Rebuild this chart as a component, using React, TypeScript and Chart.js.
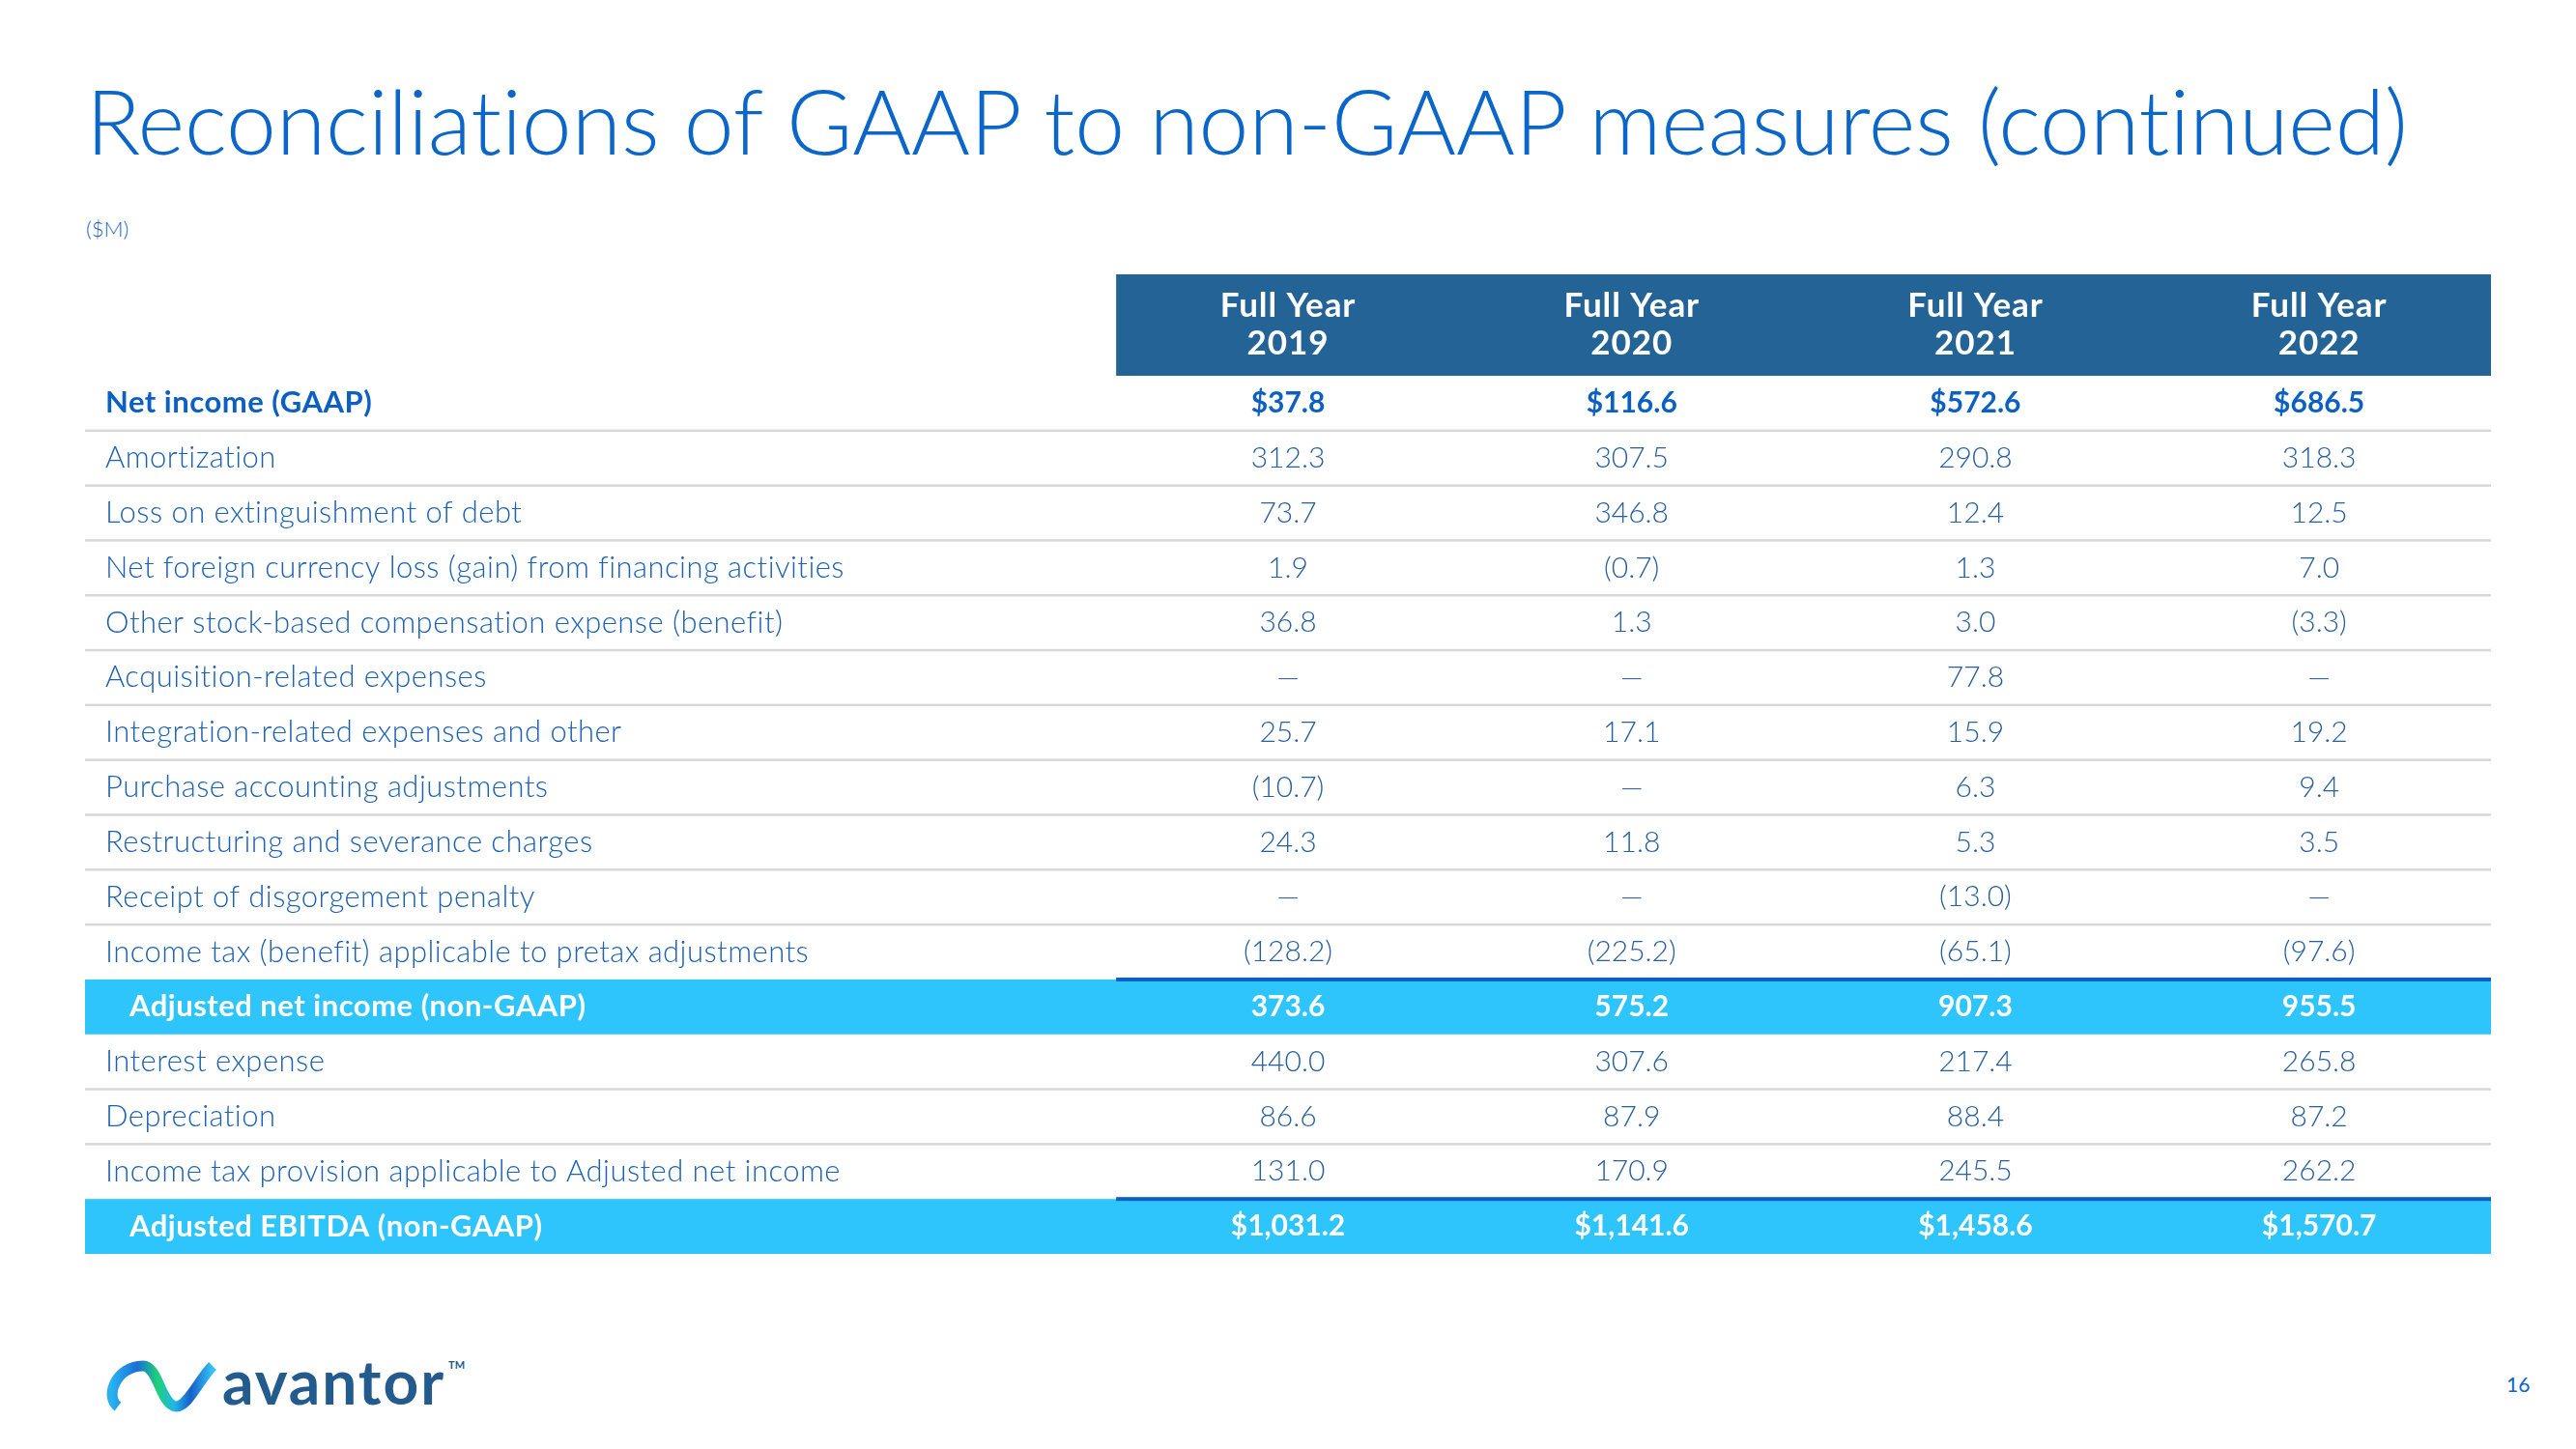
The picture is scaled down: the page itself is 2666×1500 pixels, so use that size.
import React, { useEffect, useRef } from "react";
import { Chart, registerables } from "chart.js";

Chart.register(...registerables);

const TITLE = "Reconciliations of GAAP to non-GAAP measures (continued)";
const UNIT_LABEL = "($M)";

const ROW_LABELS = [
  "Net income (GAAP)",
  "Amortization",
  "Loss on extinguishment of debt",
  "Net foreign currency loss (gain) from financing activities",
  "Other stock-based compensation expense (benefit)",
  "Acquisition-related expenses",
  "Integration-related expenses and other",
  "Purchase accounting adjustments",
  "Restructuring and severance charges",
  "Receipt of disgorgement penalty",
  "Income tax (benefit) applicable to pretax adjustments",
  "Adjusted net income (non-GAAP)",
  "Interest expense",
  "Depreciation",
  "Income tax provision applicable to Adjusted net income",
  "Adjusted EBITDA (non-GAAP)",
];

const COLUMN_KEYS = ["FY2019", "FY2020", "FY2021", "FY2022"];
const HEADER_LINE1 = ["Full Year", "Full Year", "Full Year", "Full Year"];
const HEADER_LINE2 = ["2019", "2020", "2021", "2022"];

const FY2019: (number | null)[] = [37.8, 312.3, 73.7, 1.9, 36.8, null, 25.7, -10.7, 24.3, null, -128.2, 373.6, 440.0, 86.6, 131.0, 1031.2];
const FY2020: (number | null)[] = [116.6, 307.5, 346.8, -0.7, 1.3, null, 17.1, null, 11.8, null, -225.2, 575.2, 307.6, 87.9, 170.9, 1141.6];
const FY2021: (number | null)[] = [572.6, 290.8, 12.4, 1.3, 3.0, 77.8, 15.9, 6.3, 5.3, -13.0, -65.1, 907.3, 217.4, 88.4, 245.5, 1458.6];
const FY2022: (number | null)[] = [686.5, 318.3, 12.5, 7.0, -3.3, null, 19.2, 9.4, 3.5, null, -97.6, 955.5, 265.8, 87.2, 262.2, 1570.7];

const SERIES = [FY2019, FY2020, FY2021, FY2022];

// row roles
const BOLD_ROWS = [0];
const BAND_ROWS = [11, 15];
const DOLLAR_ROWS = [0, 15];
const BLUE_RULE_BEFORE = [11, 15];
const NO_RULE_AFTER = [10, 11, 14, 15];

// label-area slots on the category x axis (3 slots wide) followed by the year columns
const X_SLOTS = ["_l1", "_l2", "_l3", ...COLUMN_KEYS];

const FONT = "Lato, 'Open Sans', 'Noto Sans', sans-serif";
const C_TITLE = "#0a66c8";
const C_LABEL = "#1c62b4";
const C_VALUE = "#27609f";
const C_BOLD = "#0b60c2";
const C_HEADER = "#246395";
const C_BAND = "#2ec4fc";
const C_RULE = "#d8d8d8";
const C_BLUE_RULE = "#0d5fc4";

function fmt(v: number | null, row: number): string {
  if (v === null) return "\u2014";
  const s = Math.abs(v).toLocaleString("en-US", { minimumFractionDigits: 1, maximumFractionDigits: 1 });
  const d = DOLLAR_ROWS.includes(row) ? "$" : "";
  return v < 0 ? `(${d}${s})` : `${d}${s}`;
}

function setFont(ctx: any, font: string, spacing: number) {
  ctx.font = font;
  if ("letterSpacing" in ctx) ctx.letterSpacing = `${spacing}px`;
}

const tablePlugin = {
  id: "tablePlugin",
  beforeDatasetsDraw(chart: any) {
    const ctx = chart.ctx as any;
    const area = chart.chartArea;
    const xs = chart.scales.x;
    const ys = chart.scales.y;
    const slot = xs.getPixelForValue(4) - xs.getPixelForValue(3);
    const rowH = ys.getPixelForValue(1) - ys.getPixelForValue(0);
    const colLeft = xs.getPixelForValue(3) - slot / 2;
    ctx.save();

    // header band
    const headerH = area.top;
    ctx.fillStyle = C_HEADER;
    ctx.fillRect(colLeft, 0, area.right - colLeft, headerH);
    ctx.fillStyle = "#ffffff";
    setFont(ctx, `700 35px ${FONT}`, 0.9);
    ctx.textAlign = "center";
    ctx.textBaseline = "middle";
    COLUMN_KEYS.forEach((k, i) => {
      const cx = xs.getPixelForValue(3 + i);
      ctx.fillText(HEADER_LINE1[i], cx, headerH - 72);
      ctx.fillText(HEADER_LINE2[i], cx, headerH - 33);
    });

    // bands
    BAND_ROWS.forEach((r) => {
      const cy = ys.getPixelForValue(r);
      ctx.fillStyle = C_BAND;
      ctx.fillRect(area.left, cy - rowH / 2, area.right - area.left, rowH);
    });

    // rules
    for (let r = 0; r < ROW_LABELS.length - 1; r++) {
      const by = ys.getPixelForValue(r) + rowH / 2;
      if (BLUE_RULE_BEFORE.includes(r + 1)) {
        ctx.fillStyle = C_BLUE_RULE;
        ctx.fillRect(colLeft, by - 2, area.right - colLeft, 4);
      } else if (!NO_RULE_AFTER.includes(r)) {
        ctx.fillStyle = C_RULE;
        ctx.fillRect(area.left, by - 1.25, area.right - area.left, 2.5);
      }
    }

    // row labels
    ctx.textAlign = "left";
    ctx.textBaseline = "middle";
    ROW_LABELS.forEach((lab, r) => {
      const cy = ys.getPixelForValue(r);
      if (BAND_ROWS.includes(r)) {
        setFont(ctx, `700 31px ${FONT}`, 0.5);
        ctx.fillStyle = "#ffffff";
        ctx.fillText(lab, area.left + 46, cy);
      } else if (BOLD_ROWS.includes(r)) {
        setFont(ctx, `700 31px ${FONT}`, 0.5);
        ctx.fillStyle = C_BOLD;
        ctx.fillText(lab, area.left + 21, cy);
      } else {
        setFont(ctx, `300 31px ${FONT}`, 0.45);
        ctx.fillStyle = C_LABEL;
        ctx.fillText(lab, area.left + 21, cy);
      }
    });
    ctx.restore();
  },
  afterDatasetsDraw(chart: any) {
    const ctx = chart.ctx as any;
    ctx.save();
    ctx.textAlign = "center";
    ctx.textBaseline = "middle";
    chart.data.datasets.forEach((ds: any, di: number) => {
      const meta = chart.getDatasetMeta(di);
      meta.data.forEach((el: any, r: number) => {
        const v = SERIES[di][r];
        if (BAND_ROWS.includes(r)) {
          setFont(ctx, `700 30px ${FONT}`, 0);
          ctx.fillStyle = "#ffffff";
        } else if (BOLD_ROWS.includes(r)) {
          setFont(ctx, `700 30px ${FONT}`, 0);
          ctx.fillStyle = C_BOLD;
        } else {
          setFont(ctx, `300 30px ${FONT}`, 0);
          ctx.fillStyle = C_VALUE;
        }
        ctx.fillText(fmt(v, r), el.x, el.y);
      });
    });
    ctx.restore();
  },
};

function TableChart() {
  const ref = useRef<HTMLCanvasElement | null>(null);
  useEffect(() => {
    if (!ref.current) return;
    const chart = new Chart(ref.current, {
      type: "scatter",
      data: {
        datasets: COLUMN_KEYS.map((k, i) => ({
          label: k,
          data: ROW_LABELS.map((lab, r) => ({ x: k, y: lab, v: SERIES[i][r] })) as any,
          pointRadius: 0,
          pointHoverRadius: 0,
        })),
      },
      options: {
        animation: false,
        responsive: false,
        maintainAspectRatio: false,
        events: [],
        layout: { padding: { top: 105, left: 0, right: 0, bottom: 0 } },
        plugins: { legend: { display: false }, tooltip: { enabled: false } },
        scales: {
          x: { type: "category", labels: X_SLOTS, offset: true, display: false },
          y: { type: "category", labels: ROW_LABELS, offset: true, display: false },
        },
      } as any,
      plugins: [tablePlugin],
    });
    return () => chart.destroy();
  }, []);
  return <canvas ref={ref} width={2490} height={1014} style={{ display: "block", width: 2490, height: 1014 }} />;
}

function Logo() {
  return (
    <div style={{ position: "absolute", left: 108, top: 1392, height: 70, display: "flex", alignItems: "flex-end" }}>
      <svg width="116" height="56" viewBox="0 0 116 56">
        <defs>
          <linearGradient id="lgA" x1="0" y1="0" x2="1" y2="0">
            <stop offset="0%" stopColor="#29b0f0" />
            <stop offset="25%" stopColor="#1a6fd6" />
            <stop offset="45%" stopColor="#1fd07a" />
            <stop offset="62%" stopColor="#22b6e8" />
            <stop offset="78%" stopColor="#1560c8" />
            <stop offset="100%" stopColor="#36c3f7" />
          </linearGradient>
        </defs>
        <path d="M 14 50 C 0 40, 12 8, 40 8 C 56 8, 58 48, 74 50 C 86 51, 98 22, 112 8" fill="none" stroke="url(#lgA)" strokeWidth="11" strokeLinecap="butt" />
      </svg>
      <span style={{ fontFamily: FONT, fontWeight: 700, fontSize: 64, color: "#235b8e", marginLeft: 6, lineHeight: "64px", letterSpacing: 2 }}>avantor</span>
      <span style={{ fontFamily: FONT, fontWeight: 700, fontSize: 11, color: "#235b8e", alignSelf: "flex-start", marginTop: 14, marginLeft: 3 }}>TM</span>
    </div>
  );
}

export default function App() {
  return (
    <div style={{ position: "fixed", left: 0, top: 0, width: 2666, height: 1500, background: "#ffffff", overflow: "hidden" }}>
      <div style={{ position: "absolute", left: 89, top: 78, fontFamily: FONT, fontWeight: 300, fontSize: 93, lineHeight: "93px", color: C_TITLE, whiteSpace: "nowrap", fontVariantLigatures: "none" }}>{TITLE}</div>
      <div style={{ position: "absolute", left: 89, top: 226, fontFamily: FONT, fontWeight: 300, fontSize: 22, lineHeight: "22px", color: C_LABEL }}>{UNIT_LABEL}</div>
      <div style={{ position: "absolute", left: 88, top: 284 }}>
        <TableChart />
      </div>
      <Logo />
      <div style={{ position: "absolute", left: 2594, top: 1422, fontFamily: FONT, fontWeight: 400, fontSize: 21, lineHeight: "21px", color: C_TITLE }}>16</div>
    </div>
  );
}
